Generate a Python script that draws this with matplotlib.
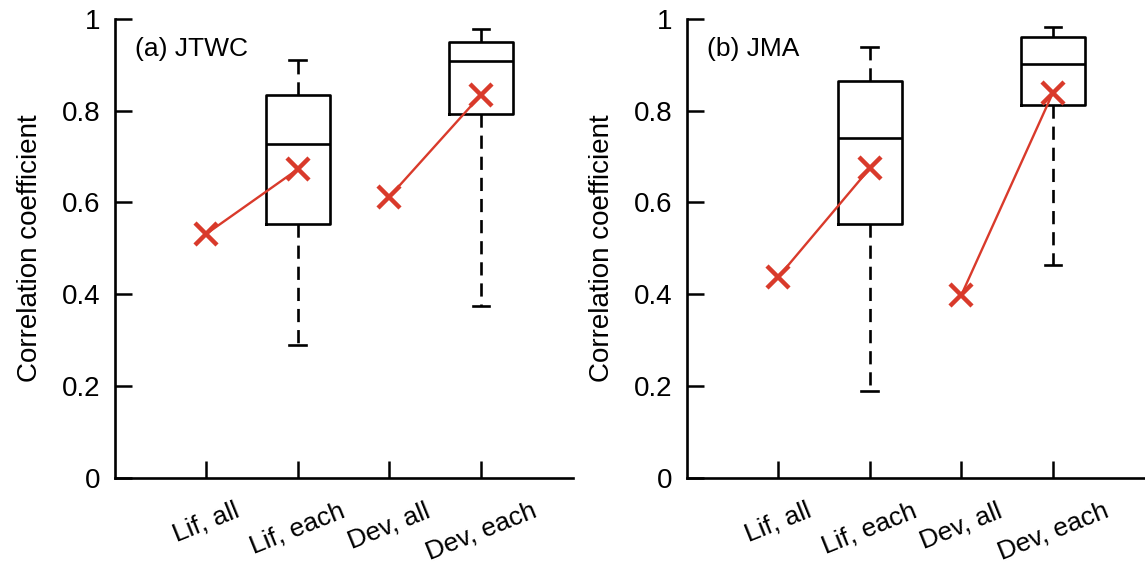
import matplotlib
matplotlib.use("Agg")
import matplotlib.pyplot as plt
import matplotlib.transforms as mtransforms

plt.rcParams['font.family'] = ['Liberation Sans', 'DejaVu Sans']

categories = ["Lif, all", "Lif, each", "Dev, all", "Dev, each"]
panel_titles = ["(a) JTWC", "(b) JMA"]

# Box statistics for "each" categories: [whislo, q1, median, q3, whishi]
jtwc_lif_each = [0.289, 0.552, 0.728, 0.835, 0.911]
jtwc_dev_each = [0.374, 0.792, 0.908, 0.949, 0.977]
jma_lif_each = [0.189, 0.552, 0.741, 0.864, 0.939]
jma_dev_each = [0.463, 0.812, 0.901, 0.961, 0.983]

# Red x markers: (all, each-mean)
jtwc_lif_points = [0.531, 0.672]
jtwc_dev_points = [0.612, 0.834]
jma_lif_points = [0.437, 0.674]
jma_dev_points = [0.398, 0.839]

yticks = [0, 0.2, 0.4, 0.6, 0.8, 1]
ytick_labels = ["0", "0.2", "0.4", "0.6", "0.8", "1"]

RED = "#d93a2b"
FS = 20

fig = plt.figure(figsize=(11.45, 5.70), dpi=100)
ax_a = fig.add_axes([0.1, 0.162, 0.4, 0.805])
ax_b = fig.add_axes([0.5996, 0.162, 0.4, 0.805])

panels = [
    (ax_a, panel_titles[0], jtwc_lif_each, jtwc_dev_each, jtwc_lif_points, jtwc_dev_points),
    (ax_b, panel_titles[1], jma_lif_each, jma_dev_each, jma_lif_points, jma_dev_points),
]

def stats(v):
    return dict(whislo=v[0], q1=v[1], med=v[2], q3=v[3], whishi=v[4], fliers=[])

offset = mtransforms.ScaledTranslation(4 / 100, 0, fig.dpi_scale_trans)

for ax, title, lif, dev, lifp, devp in panels:
    ax.bxp([stats(lif), stats(dev)], positions=[2, 4], widths=0.7, showfliers=False,
           boxprops=dict(color="black", linewidth=1.9),
           medianprops=dict(color="black", linewidth=1.9),
           whiskerprops=dict(color="black", linewidth=1.9, linestyle=(0, (5, 3))),
           capprops=dict(color="black", linewidth=1.9),
           capwidths=0.18)
    ax.plot([1, 2], lifp, color=RED, linewidth=1.7, marker="x", markersize=16,
            markeredgewidth=3.2, zorder=5)
    ax.plot([3, 4], devp, color=RED, linewidth=1.7, marker="x", markersize=16,
            markeredgewidth=3.2, zorder=5)
    ax.set_xlim(0, 5)
    ax.set_ylim(0, 1)
    ax.set_xticks([1, 2, 3, 4])
    ax.set_xticklabels(categories, rotation=22, ha="center", fontsize=19)
    for lab in ax.get_xticklabels():
        lab.set_transform(lab.get_transform() + offset)
    ax.set_yticks(yticks)
    ax.set_yticklabels(ytick_labels, fontsize=FS)
    ax.tick_params(direction="in", length=12, width=1.8, pad=10)
    ax.tick_params(axis="x", pad=15)
    for s in ["top", "right"]:
        ax.spines[s].set_visible(False)
    for s in ["left", "bottom"]:
        ax.spines[s].set_linewidth(1.9)
    ax.set_ylabel("Correlation coefficient", fontsize=FS, labelpad=14)
    ax.text(0.045, 0.935, title, transform=ax.transAxes,
            fontsize=19, ha="left", va="center")

fig.savefig("out.png", dpi=100)
